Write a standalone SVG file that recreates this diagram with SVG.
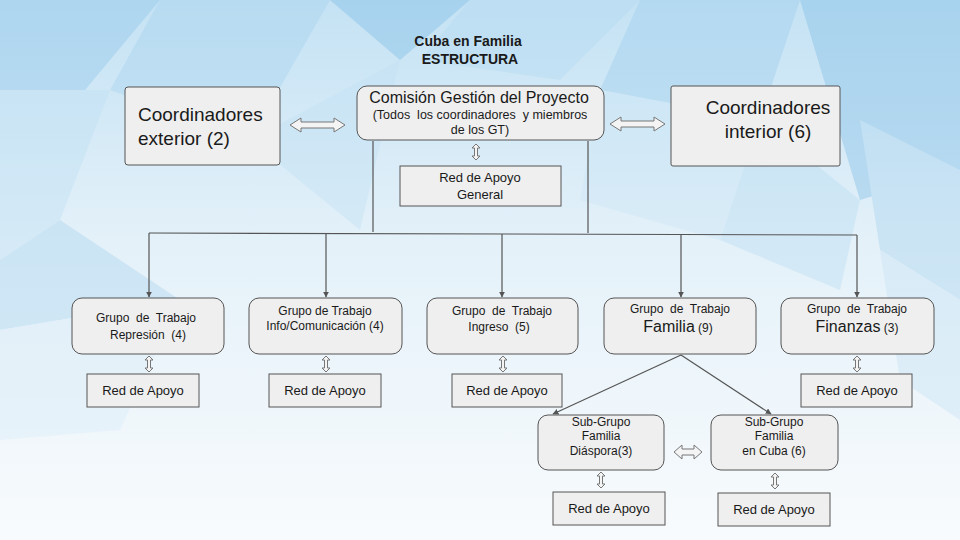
<svg xmlns="http://www.w3.org/2000/svg" width="960" height="540" viewBox="0 0 960 540">
<defs>
  <linearGradient id="bg" x1="0" y1="0" x2="0" y2="1">
    <stop offset="0" stop-color="#c4e2f4"/>
    <stop offset="0.45" stop-color="#e4f1f9"/>
    <stop offset="1" stop-color="#f8fbfd"/>
  </linearGradient>
  <marker id="ah" viewBox="0 0 10 10" refX="9" refY="5" markerWidth="6" markerHeight="6" orient="auto" markerUnits="userSpaceOnUse">
    <path d="M0,0 L10,5 L0,10 Z" fill="#555"/>
  </marker>
  <path id="vda" d="M0,-8 L4,-4 L1.5,-4 L1.5,4 L4,4 L0,8 L-4,4 L-1.5,4 L-1.5,-4 L-4,-4 Z"/>
</defs>
<style>
  .box{fill:#efefef;stroke:#555;stroke-width:1}
  .red{fill:#efefef;stroke:#555;stroke-width:1}
  .t{font-family:"Liberation Sans",Arial,sans-serif;fill:#1a1a1a;text-anchor:middle;white-space:pre}
  .l{text-anchor:start}
  .big{font-size:19px}
  .s12{font-size:12px}
  .s13{font-size:13px}
  .s16{font-size:16px}
  .dar{fill:#f4f4f4;stroke:#777;stroke-width:1}
  .con{stroke:#555;stroke-width:1.2;fill:none}
</style>
<!-- background -->
<rect width="960" height="540" fill="url(#bg)"/>
<g opacity="0.4">
  <polygon points="0,0 160,0 60,120 0,90" fill="#8ec6ea"/>
  <polygon points="160,0 330,0 250,140 110,90" fill="#a6d2ef"/>
  <polygon points="330,0 470,0 400,60" fill="#7dbce6"/>
  <polygon points="470,0 640,0 560,80 420,60" fill="#b4daf2"/>
  <polygon points="640,0 800,0 760,120 600,90" fill="#9ccdee"/>
  <polygon points="800,0 960,0 960,170 860,200" fill="#7fbde6"/>
  <polygon points="860,120 960,170 960,300 880,250" fill="#a7d3ef"/>
  <polygon points="0,90 110,90 60,220 0,260" fill="#bfe0f4"/>
  <polygon points="0,260 60,220 180,300 0,330" fill="#a9d4ef"/>
  <polygon points="250,140 400,60 360,230" fill="#c2e1f4"/>
  <polygon points="600,90 760,120 720,240 580,200" fill="#cce6f6"/>
  <polygon points="760,120 860,200 840,290 720,240" fill="#b9ddf3"/>
  <polygon points="880,250 960,300 960,420 900,380" fill="#c6e3f5"/>
  <polygon points="0,330 180,300 120,430 0,440" fill="#d9ecf8"/>
</g>

<!-- title -->
<g id="title">
  <text class="t" x="468" y="46" font-size="14" font-weight="bold">Cuba en Familia</text>
  <text class="t" x="470" y="64" font-size="14" font-weight="bold">ESTRUCTURA</text>
</g>

<!-- connectors -->
<g id="connectors">
  <line class="con" x1="373" y1="141" x2="373" y2="232"/>
  <line class="con" x1="588" y1="141" x2="588" y2="233"/>
  <line class="con" x1="149" y1="233" x2="857" y2="235"/>
  <line class="con" x1="149" y1="233" x2="149" y2="297" marker-end="url(#ah)"/>
  <line class="con" x1="326" y1="233" x2="326" y2="297" marker-end="url(#ah)"/>
  <line class="con" x1="502" y1="234" x2="502" y2="297" marker-end="url(#ah)"/>
  <line class="con" x1="681" y1="234" x2="681" y2="297" marker-end="url(#ah)"/>
  <line class="con" x1="857" y1="235" x2="857" y2="297" marker-end="url(#ah)"/>
  <line class="con" x1="681" y1="355" x2="553" y2="414" marker-end="url(#ah)"/>
  <line class="con" x1="681" y1="355" x2="771" y2="414" marker-end="url(#ah)"/>
  <path class="dar" d="M290,125 L301,118 L301,122 L334,122 L334,118 L345,125 L334,132 L334,128 L301,128 L301,132 Z"/>
  <path class="dar" d="M610,124 L621,117 L621,121 L654,121 L654,117 L665,124 L654,131 L654,127 L621,127 L621,131 Z"/>
  <path class="dar" d="M674,452 L682,445 L682,449 L694,449 L694,445 L702,452 L694,459 L694,455 L682,455 L682,459 Z"/>
  <use href="#vda" class="dar" x="476" y="152"/>
  <use href="#vda" class="dar" x="149" y="364"/>
  <use href="#vda" class="dar" x="326" y="364"/>
  <use href="#vda" class="dar" x="503" y="364"/>
  <use href="#vda" class="dar" x="857" y="364"/>
  <use href="#vda" class="dar" x="601" y="480"/>
  <use href="#vda" class="dar" x="775" y="481"/>
</g>

<!-- top row -->
<g id="coord-exterior">
  <rect class="box" x="125" y="87" width="155" height="78" rx="3"/>
  <text class="t big l" x="138" y="121">Coordinadores</text>
  <text class="t big l" x="138" y="145">exterior (2)</text>
</g>
<g id="comision">
  <rect class="box" x="357" y="86" width="247" height="54" rx="10"/>
  <text class="t s16" x="479" y="103">Comisión Gestión del Proyecto</text>
  <text class="t" x="480" y="119" font-size="12.5">(Todos  los coordinadores  y miembros</text>
  <text class="t" x="480" y="134" font-size="12.5">de los GT)</text>
</g>
<g id="coord-interior">
  <rect class="box" x="671" y="86" width="169" height="80" rx="2"/>
  <text class="t big" x="768" y="114">Coordinadores</text>
  <text class="t big" x="768" y="138">interior (6)</text>
</g>
<g id="red-general">
  <rect class="red" x="400" y="166" width="161" height="40"/>
  <text class="t s13" x="480" y="182">Red de Apoyo</text>
  <text class="t s13" x="480" y="199">General</text>
</g>

<!-- group row -->
<g id="gt-represion">
  <rect class="box" x="72" y="298" width="152" height="56" rx="10"/>
  <text class="t s12" x="146" y="322">Grupo  de  Trabajo</text>
  <text class="t s12" x="148" y="339">Represión  (4)</text>
</g>
<g id="gt-info">
  <rect class="box" x="249" y="298" width="153" height="56" rx="10"/>
  <text class="t s12" x="325" y="315">Grupo de Trabajo</text>
  <text class="t s12" x="325" y="330">Info/Comunicación (4)</text>
</g>
<g id="gt-ingreso">
  <rect class="box" x="427" y="298" width="151" height="56" rx="10"/>
  <text class="t s12" x="502" y="315">Grupo  de  Trabajo</text>
  <text class="t s12" x="499" y="331">Ingreso  (5)</text>
</g>
<g id="gt-familia">
  <rect class="box" x="604" y="298" width="152" height="56" rx="10"/>
  <text class="t s12" x="680" y="313">Grupo  de  Trabajo</text>
  <text class="t" x="678" y="332"><tspan font-size="16">Familia</tspan><tspan font-size="12"> (9)</tspan></text>
</g>
<g id="gt-finanzas">
  <rect class="box" x="781" y="298" width="153" height="56" rx="10"/>
  <text class="t s12" x="857" y="313">Grupo  de  Trabajo</text>
  <text class="t" x="857" y="332"><tspan font-size="16">Finanzas</tspan><tspan font-size="12"> (3)</tspan></text>
</g>

<!-- red de apoyo row -->
<g id="red-represion">
  <rect class="red" x="87" y="374" width="112" height="33"/>
  <text class="t s13" x="143" y="395">Red de Apoyo</text>
</g>
<g id="red-info">
  <rect class="red" x="269" y="374" width="112" height="33"/>
  <text class="t s13" x="325" y="395">Red de Apoyo</text>
</g>
<g id="red-ingreso">
  <rect class="red" x="452" y="374" width="110" height="33"/>
  <text class="t s13" x="507" y="395">Red de Apoyo</text>
</g>
<g id="red-finanzas">
  <rect class="red" x="801" y="374" width="111" height="33"/>
  <text class="t s13" x="857" y="395">Red de Apoyo</text>
</g>

<!-- sub groups -->
<g id="sg-diaspora">
  <rect class="box" x="538" y="415" width="126" height="55" rx="10"/>
  <text class="t s12" x="601" y="426">Sub-Grupo</text>
  <text class="t s12" x="601" y="440">Familia</text>
  <text class="t s12" x="601" y="455">Diáspora(3)</text>
</g>
<g id="sg-cuba">
  <rect class="box" x="711" y="415" width="127" height="55" rx="10"/>
  <text class="t s12" x="774" y="426">Sub-Grupo</text>
  <text class="t s12" x="774" y="440">Familia</text>
  <text class="t s12" x="774" y="455">en Cuba (6)</text>
</g>
<g id="red-diaspora">
  <rect class="red" x="553" y="492" width="112" height="33"/>
  <text class="t s13" x="609" y="513">Red de Apoyo</text>
</g>
<g id="red-cuba">
  <rect class="red" x="718" y="493" width="112" height="33"/>
  <text class="t s13" x="774" y="514">Red de Apoyo</text>
</g>
</svg>
